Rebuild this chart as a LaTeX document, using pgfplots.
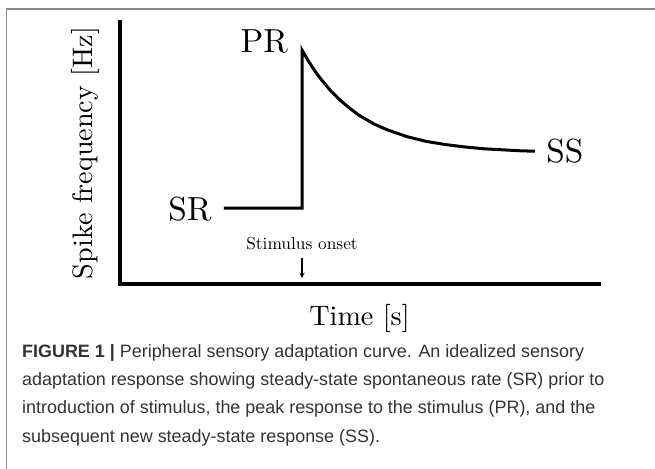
\documentclass[border=0pt]{standalone}
\usepackage{pgfplots}
\pgfplotsset{compat=1.18}
\usepackage{fontspec}
\setmainfont{lmroman10-regular}[Extension=.otf]
\newfontfamily\capfont{Liberation Sans}
\definecolor{captxt}{HTML}{333333}
\definecolor{boxgray}{HTML}{8A8A8A}
\begin{document}
\begin{tikzpicture}
\useasboundingbox (0,0) rectangle (655bp,469bp);
\fill[white] (0,0) rectangle (655bp,469bp);
\draw[boxgray, line width=1.2bp] (6.5bp,-2bp) -- (6.5bp,460bp) -- (660bp,460bp);
\begin{axis}[
  at={(120bp,185bp)}, anchor=south west,
  width=479bp, height=262bp, scale only axis,
  xmin=0, xmax=100, ymin=0, ymax=100,
  axis lines=left,
  axis line style={-, line width=3.4bp, line cap=rect},
  xtick=\empty, ytick=\empty,
  clip=false,
  xlabel={Time [s]}, ylabel={Spike frequency [Hz]},
  label style={font=\fontsize{28.3}{31}\selectfont},
  xlabel style={at={(axis description cs:0.5,-0.13)}, anchor=center},
  ylabel style={at={(axis description cs:-0.073,0.5)}, anchor=center},
]
\addplot[black, line width=3bp, line join=miter] coordinates {
  (21.7,29.0) (38,29.0) (38,89.3)
  (39,86.1) (40,83.2) (41,80.5) (42,78.1) (44,73.7) (46,70.1) (48,67.0)
  (50,64.3) (53,61.1) (56,58.7) (60,56.2) (64,54.4) (68,53.2) (72,52.3)
  (76,51.6) (80,51.2) (84,50.8) (86.6,50.7)
};
\node[anchor=base, font=\fontsize{33.5}{36}\selectfont] at (axis cs:30.1,88.2) {PR};
\node[anchor=base, font=\fontsize{33.5}{36}\selectfont] at (axis cs:14.6,24.4) {SR};
\node[anchor=base, font=\fontsize{33.5}{36}\selectfont] at (axis cs:92.9,46.2) {SS};
\node[anchor=base, font=\fontsize{17.4}{20}\selectfont] at (axis cs:38,13.0) {Stimulus onset};
\draw[-stealth, line width=1.3bp] (axis cs:38,10) -- (axis cs:38,2.3);
\end{axis}
\begin{scope}[captxt, font=\capfont\fontsize{18}{28}\selectfont]
\node[anchor=base west, inner sep=0] at (22bp,111bp) {\textbf{FIGURE 1 |} Peripheral sensory adaptation curve. An idealized sensory};
\node[anchor=base west, inner sep=0] at (22bp,83bp) {adaptation response showing steady-state spontaneous rate (SR) prior to};
\node[anchor=base west, inner sep=0] at (22bp,55bp) {introduction of stimulus, the peak response to the stimulus (PR), and the};
\node[anchor=base west, inner sep=0] at (22bp,27bp) {subsequent new steady-state response (SS).};
\end{scope}
\end{tikzpicture}
\end{document}
